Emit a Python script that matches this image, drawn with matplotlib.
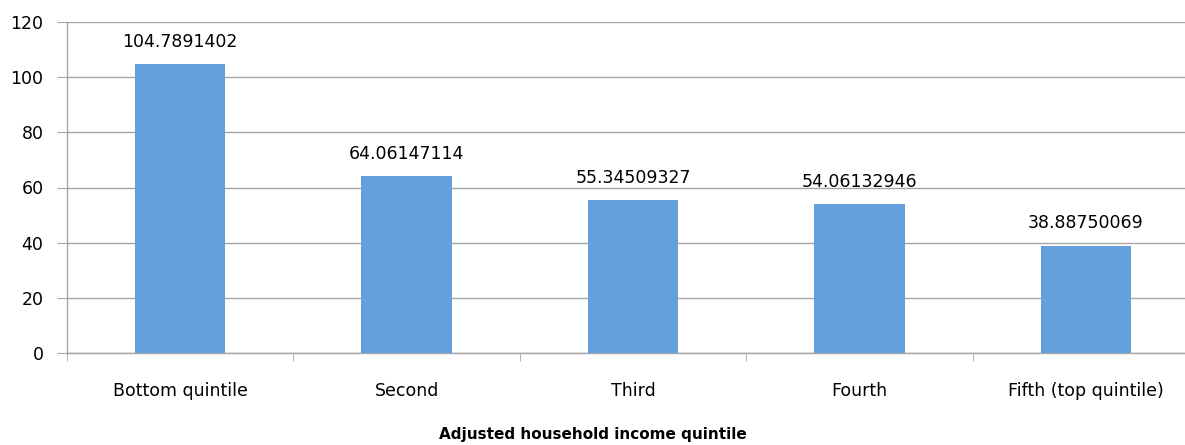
import matplotlib
matplotlib.use("Agg")
import matplotlib.pyplot as plt
import numpy as np

categories = ["Bottom quintile", "Second", "Third", "Fourth", "Fifth (top quintile)"]
values = [104.7891402, 64.06147114, 55.34509327, 54.06132946, 38.88750069]
labels = ["104.7891402", "64.06147114", "55.34509327", "54.06132946", "38.88750069"]
yticks = [0, 20, 40, 60, 80, 100, 120]

W, H = 1185, 445
fig = plt.figure(figsize=(W / 100, H / 100), dpi=100)
left, right, top, bottom = 67, 1199, 22, 353
ax = fig.add_axes([left / W, 1 - bottom / H, (right - left) / W, (bottom - top) / H])

x = np.arange(len(categories))
ax.bar(x, values, width=0.4, color="#64A0DC", zorder=3)
for xi, v, s in zip(x, values, labels):
    ax.text(xi, v + 4.8, s, ha="center", va="bottom", fontsize=12.5, color="black")

ax.set_xlim(-0.5, len(categories) - 0.5)
ax.set_ylim(0, 120)
ax.set_yticks(yticks)
ax.set_yticklabels([str(t) for t in yticks], fontsize=12.5)
ax.yaxis.grid(True, color="#A6A6A6", linewidth=1, zorder=0)
ax.set_xticks(x)
ax.set_xticklabels(categories, fontsize=12.5)
ax.set_xticks(np.arange(len(categories) + 1) - 0.5, minor=True)
ax.tick_params(axis="x", which="major", length=0, pad=21)
ax.tick_params(axis="x", which="minor", length=6, color="#A6A6A6", direction="out")
ax.tick_params(axis="y", length=7, color="#A6A6A6", pad=10)
for s in ["top", "right"]:
    ax.spines[s].set_visible(False)
for s in ["left", "bottom"]:
    ax.spines[s].set_color("#A6A6A6")
    ax.spines[s].set_linewidth(1)

fig.text(0.5, 1 - 435 / H, "Adjusted household income quintile", ha="center", va="center",
         fontsize=11, fontweight="bold")

fig.savefig("out.png", dpi=100)
